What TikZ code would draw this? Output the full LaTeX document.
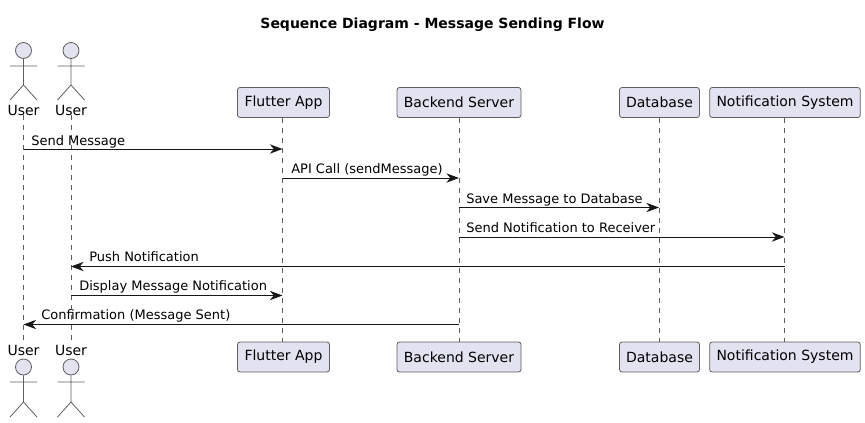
\documentclass[tikz,border=0pt]{standalone}
\usepackage{fontspec}
\setmainfont{DejaVu Sans}
\usetikzlibrary{arrows.meta,positioning}
\definecolor{partfill}{HTML}{E2E2F0}
\definecolor{partline}{HTML}{5E5E5E}
\definecolor{msgline}{HTML}{181818}
\tikzset{
  part/.style = {draw=partline, fill=partfill, line width=0.6pt, rounded corners=1.9pt,
    minimum height=22.5pt, inner sep=0pt, font=\fontsize{10.5}{12}\selectfont},
  actorlabel/.style = {inner sep=0pt, font=\fontsize{10.5}{12}\selectfont},
  actorhead/.style = {circle, draw=partline, fill=partfill, line width=0.6pt,
    minimum size=12pt, inner sep=0pt},
  actorbody/.style = {draw=partline, line width=0.6pt},
  lifeline/.style = {draw=partline, line width=0.5pt, dash pattern=on 3.75pt off 3.75pt},
  msg/.style = {draw=msgline, line width=0.75pt,
    -{Stealth[length=9.5pt,width=7pt,inset=3pt]}},
  msglabel/.style = {anchor=base west, inner sep=0pt, text=black, font=\fontsize{9.75}{12}\selectfont}
}
\begin{document}
\begin{tikzpicture}[x=0.75pt,y=-0.75pt]
\useasboundingbox (0,0) rectangle (865,422);

\node[font=\bfseries\fontsize{10.5}{12}\selectfont, inner sep=0pt] (title) at (432.5,24.5) {Sequence Diagram - Message Sending Flow};

% top row
\node[actorlabel] (user1t) at (23.5,110) {User};
\node[actorlabel] (user2t) at (71,110) {User};
\node[part, minimum width=69pt] (appt) at (283.5,102.5) {Flutter App};
\node[part, minimum width=93pt] (backt) at (459,102.5) {Backend Server};
\node[part, minimum width=60pt] (dbt) at (659.5,102.5) {Database};
\node[part, minimum width=113pt] (notift) at (785,102.5) {Notification System};

% bottom row
\node[actorlabel] (user1b) at (23.5,350) {User};
\node[actorlabel] (user2b) at (71,350) {User};
\node[part, minimum width=69pt] (appb) at (283.5,357) {Flutter App};
\node[part, minimum width=93pt] (backb) at (459,357) {Backend Server};
\node[part, minimum width=60pt] (dbb) at (659.5,357) {Database};
\node[part, minimum width=113pt] (notifb) at (785,357) {Notification System};

% lifelines
\coordinate (appx) at (282.5,0);
\coordinate (backx) at (459,0);
\coordinate (dbx) at (659,0);
\coordinate (notifx) at (784.5,0);
\path[lifeline] (user1t.south) -- (user1b.north);
\path[lifeline] (user2t.south) -- (user2b.north);
\path[lifeline] (appx |- appt.south) -- (appx |- appb.north);
\path[lifeline] (backx |- backt.south) -- (backx |- backb.north);
\path[lifeline] (dbx |- dbt.south) -- (dbx |- dbb.north);
\path[lifeline] (notifx |- notift.south) -- (notifx |- notifb.north);

% actors
\foreach \who/\px in {user1/23.5, user2/71} {
  \node[actorhead] (\who headt) at (\px,50.5) {};
  \node[actorhead] (\who headb) at (\px,367) {};
  \path[actorbody] (\who headt.south) -- (\px,85) -- (\px-13.5,100) (\px,85) -- (\px+13.5,100)
    (\px-13.5,66) -- (\px+13.5,66);
  \path[actorbody] (\who headb.south) -- (\px,402) -- (\px-13.5,417) (\px,402) -- (\px+13.5,417)
    (\px-13.5,382) -- (\px+13.5,382);
}

% messages
\coordinate (m1) at (0,149);
\coordinate (m2) at (0,178);
\coordinate (m3) at (0,207.5);
\coordinate (m4) at (0,237);
\coordinate (m5) at (0,266.5);
\coordinate (m6) at (0,295.5);
\coordinate (m7) at (0,324.5);

\path[msg] (user1t |- m1) -- (appx |- m1);
\path[msg] (appx |- m2) -- (backx |- m2);
\path[msg] (backx |- m3) -- (dbx |- m3);
\path[msg] (backx |- m4) -- (notifx |- m4);
\path[msg] (notifx |- m5) -- (user2t |- m5);
\path[msg] (user2t |- m6) -- (appx |- m6);
\path[msg] (backx |- m7) -- (user1t |- m7);

\node[msglabel] (l1) at (31,145) {Send Message};
\node[msglabel] (l2) at (291,173.3) {API Call (sendMessage)};
\node[msglabel] (l3) at (466,203.3) {Save Message to Database};
\node[msglabel] (l4) at (466,232.3) {Send Notification to Receiver};
\node[msglabel] (l5) at (89,261.7) {Push Notification};
\node[msglabel] (l6) at (79,290.7) {Display Message Notification};
\node[msglabel] (l7) at (41,319.7) {Confirmation (Message Sent)};
\end{tikzpicture}
\end{document}
